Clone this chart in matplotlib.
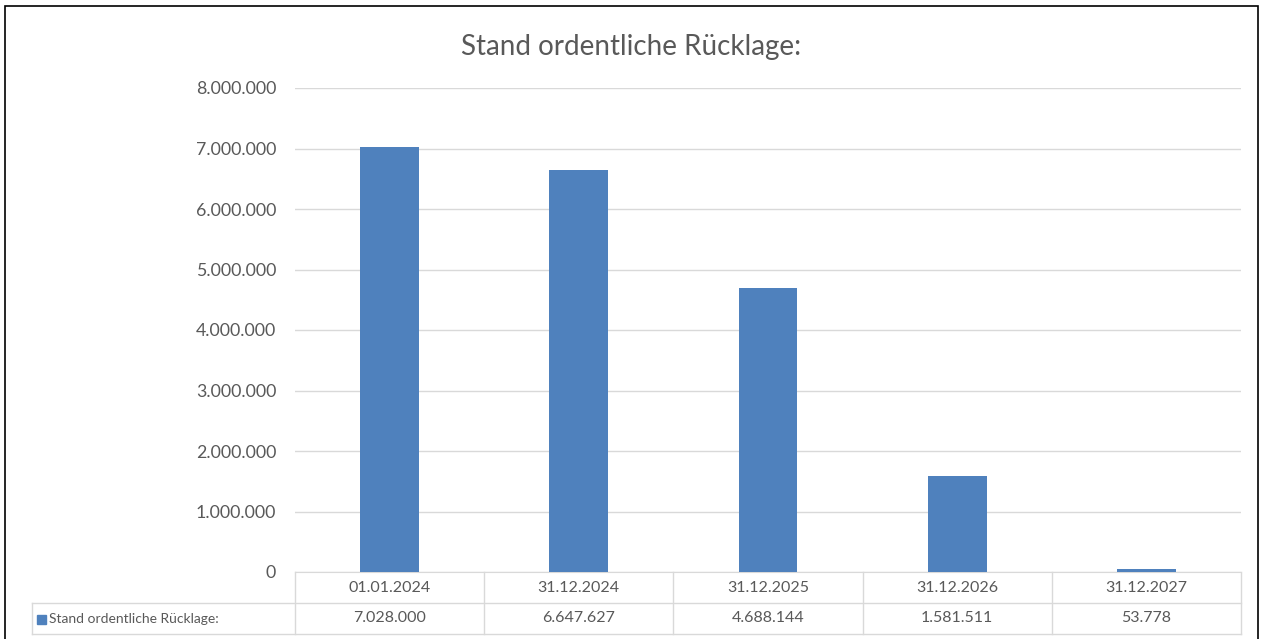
import matplotlib.pyplot as plt
import matplotlib.patches as mpatches
import numpy as np

plt.rcParams['font.family'] = ['Lato', 'DejaVu Sans']

kategorien = ['01.01.2024', '31.12.2024', '31.12.2025', '31.12.2026', '31.12.2027']
werte = [7028000, 6647627, 4688144, 1581511, 53778]
werte_text = ['7.028.000', '6.647.627', '4.688.144', '1.581.511', '53.778']
serie = 'Stand ordentliche Rücklage:'
yticks = [0, 1000000, 2000000, 3000000, 4000000, 5000000, 6000000, 7000000, 8000000]

W, H = 1263, 639
fig = plt.figure(figsize=(W / 100, H / 100), dpi=100)

# Rahmen um das Diagramm
fig.patches.append(mpatches.Rectangle((5 / W, -0.1), (1258 - 5) / W, 1.1 - 6 / H,
                                      transform=fig.transFigure, fill=False,
                                      edgecolor='black', linewidth=1.2))

ax = fig.add_axes([295 / W, (H - 572) / H, (1241 - 295) / W, (572 - 88) / H])
grau = '#d9d9d9'
text = '#595959'

x = np.arange(len(kategorien))
ax.bar(x, werte, width=0.31, color='#4f81bd', zorder=3)
ax.set_xlim(-0.5, len(kategorien) - 0.5)
ax.set_ylim(0, 8000000)
ax.set_yticks(yticks)
ax.set_yticklabels([f'{v:,}'.replace(',', '.') for v in yticks], color=text, fontsize=12.8)
ax.tick_params(axis='y', length=0, pad=13.5)
ax.set_xticks([])
ax.grid(axis='y', color=grau, linewidth=1, zorder=0)
for s in ['top', 'right', 'left']:
    ax.spines[s].set_visible(False)
ax.spines['bottom'].set_color(grau)

fig.text(0.5, (H - 47) / H, serie, ha='center', va='center', fontsize=20, color=text)

# Datentabelle unter der Achse
ph = 572 - 88
r1 = -31 / ph
r2 = -62 / ph
lw = 1
tr = ax.get_xaxis_transform()
x_links = -0.5 - (295 - 32) / ((1241 - 295) / len(kategorien))
for i in range(len(kategorien) + 1):
    ax.plot([i - 0.5, i - 0.5], [0, r2], transform=tr, color=grau, lw=lw, clip_on=False)
ax.plot([x_links, x_links], [r1, r2], transform=tr, color=grau, lw=lw, clip_on=False)
ax.plot([x_links, len(kategorien) - 0.5], [r1, r1], transform=tr, color=grau, lw=lw, clip_on=False)
ax.plot([x_links, len(kategorien) - 0.5], [r2, r2], transform=tr, color=grau, lw=lw, clip_on=False)

for i, k in enumerate(kategorien):
    ax.text(i, r1 / 2, k, transform=tr, ha='center', va='center', fontsize=11.5, color=text)
    ax.text(i, (r1 + r2) / 2, werte_text[i], transform=tr, ha='center', va='center',
            fontsize=11.5, color=text)

fig.patches.append(mpatches.Rectangle((37 / W, (H - 624) / H), 9 / W, 9 / H,
                                      transform=fig.transFigure, color='#4f81bd'))
fig.text(49 / W, (H - 619) / H, serie, ha='left', va='center', fontsize=10, color=text)

fig.savefig('out.png', dpi=100)
